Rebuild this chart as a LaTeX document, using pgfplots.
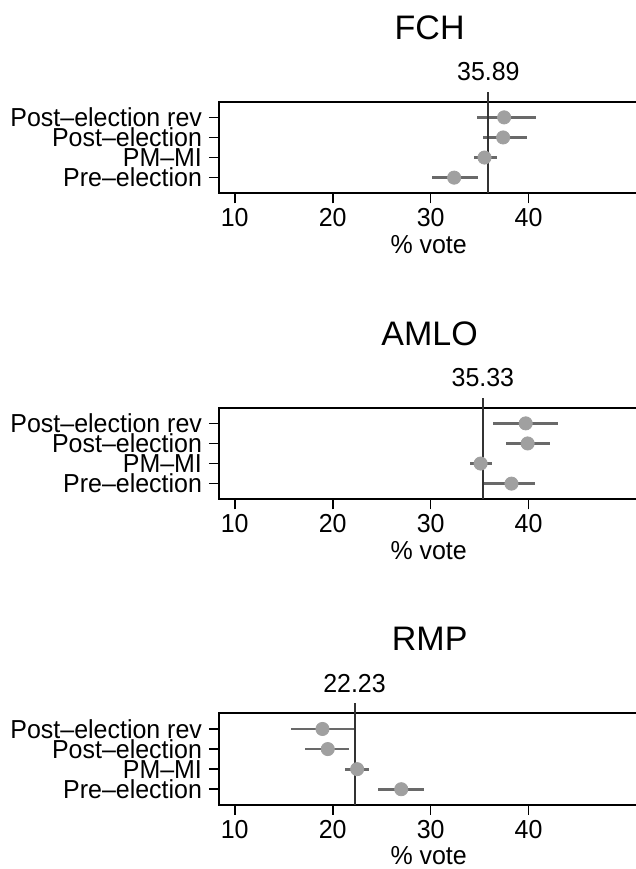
\documentclass[border=0pt]{standalone}
\usepackage{fontspec}
\setmainfont{Liberation Sans}
\newfontfamily\lab[FakeStretch=0.96, Ligatures=TeX]{Liberation Sans}
\usepackage{pgfplots}
\pgfplotsset{compat=1.18}
\usepackage{pgfplotstable}
\definecolor{dotgray}{RGB}{160,160,160}
\definecolor{bargray}{RGB}{105,105,105}
\definecolor{refgray}{RGB}{50,50,50}

% columns: row (4=Post-election rev ... 1=Pre-election), estimate, lower, upper
\pgfplotstableread{
r m lo hi
4 37.5 34.7 40.8
3 37.4 35.3 39.8
2 35.5 34.4 36.75
1 32.4 30.1 34.8
}\fch
\pgfplotstableread{
r m lo hi
4 39.7 36.4 43.0
3 39.9 37.7 42.2
2 35.1 34.0 36.3
1 38.25 35.2 40.6
}\amlo
\pgfplotstableread{
r m lo hi
4 18.96 15.7 22.3
3 19.5 17.2 21.7
2 22.5 21.3 23.7
1 27.0 24.6 29.3
}\rmp

\pgfplotsset{
  forest/.style={
    scale only axis,
    width=208.7pt, height=45.8pt,
    anchor=north west,
    xmin=8.4, xmax=51.0,
    ymin=0.22, ymax=4.78,
    clip=false,
    axis line style={line width=0.85pt},
    tick style={line width=0.85pt, black},
    tick align=outside,
    major tick length=5pt,
    xtick={10,20,30,40},
    ytick={1,2,3,4},
    yticklabels={Pre–election,PM–MI,Post–election,Post–election rev},
    xtick pos=bottom, ytick pos=left,
    font=\lab\fontsize{13pt}{14pt}\selectfont,
    xticklabel style={yshift=1pt},
    /pgf/number format/assume math mode=true,
  },
}

\begin{document}
\begin{tikzpicture}[x=1pt,y=1pt]
\path[use as bounding box] (0,0) rectangle (318,-434.5);

% ---------------- FCH ----------------
\begin{axis}[forest, at={(109.5pt,-50.85pt)}]
\addplot[draw=none, forget plot, error bars/.cd, x dir=both, x explicit,
  error mark=none, error bar style={line width=1.35pt, bargray}]
  table[x=m, y=r, x error plus expr=\thisrow{hi}-\thisrow{m},
        x error minus expr=\thisrow{m}-\thisrow{lo}] {\fch};
\draw[refgray, line width=1pt] (axis cs:35.89,0.22) -- (axis cs:35.89,5.28);
\addplot[only marks, mark=*, mark size=3.3pt, dotgray] table[x=m, y=r] {\fch};
\node[anchor=base, yshift=10.5pt] at (axis cs:35.89,4.78) {35.89};
\node[anchor=base, font=\fontsize{17pt}{18pt}\selectfont, yshift=31.2pt]
  at (axis cs:29.9,4.78) {FCH};
\node[anchor=base, yshift=-30pt] at (axis cs:29.8,0.22) {\% vote};
\end{axis}

% ---------------- AMLO ----------------
\begin{axis}[forest, at={(109.5pt,-203.85pt)}]
\addplot[draw=none, forget plot, error bars/.cd, x dir=both, x explicit,
  error mark=none, error bar style={line width=1.35pt, bargray}]
  table[x=m, y=r, x error plus expr=\thisrow{hi}-\thisrow{m},
        x error minus expr=\thisrow{m}-\thisrow{lo}] {\amlo};
\draw[refgray, line width=1pt] (axis cs:35.33,0.22) -- (axis cs:35.33,5.28);
\addplot[only marks, mark=*, mark size=3.3pt, dotgray] table[x=m, y=r] {\amlo};
\node[anchor=base, yshift=10.5pt] at (axis cs:35.33,4.78) {35.33};
\node[anchor=base, font=\fontsize{17pt}{18pt}\selectfont, yshift=31.2pt]
  at (axis cs:29.9,4.78) {AMLO};
\node[anchor=base, yshift=-30pt] at (axis cs:29.8,0.22) {\% vote};
\end{axis}

% ---------------- RMP ----------------
\begin{axis}[forest, at={(109.5pt,-356.65pt)}]
\addplot[draw=none, forget plot, error bars/.cd, x dir=both, x explicit,
  error mark=none, error bar style={line width=1.35pt, bargray}]
  table[x=m, y=r, x error plus expr=\thisrow{hi}-\thisrow{m},
        x error minus expr=\thisrow{m}-\thisrow{lo}] {\rmp};
\draw[refgray, line width=1pt] (axis cs:22.23,0.22) -- (axis cs:22.23,5.28);
\addplot[only marks, mark=*, mark size=3.3pt, dotgray] table[x=m, y=r] {\rmp};
\node[anchor=base, yshift=10.5pt] at (axis cs:22.23,4.78) {22.23};
\node[anchor=base, font=\fontsize{17pt}{18pt}\selectfont, yshift=31.2pt]
  at (axis cs:29.9,4.78) {RMP};
\node[anchor=base, yshift=-30pt] at (axis cs:29.8,0.22) {\% vote};
\end{axis}
\end{tikzpicture}
\end{document}
